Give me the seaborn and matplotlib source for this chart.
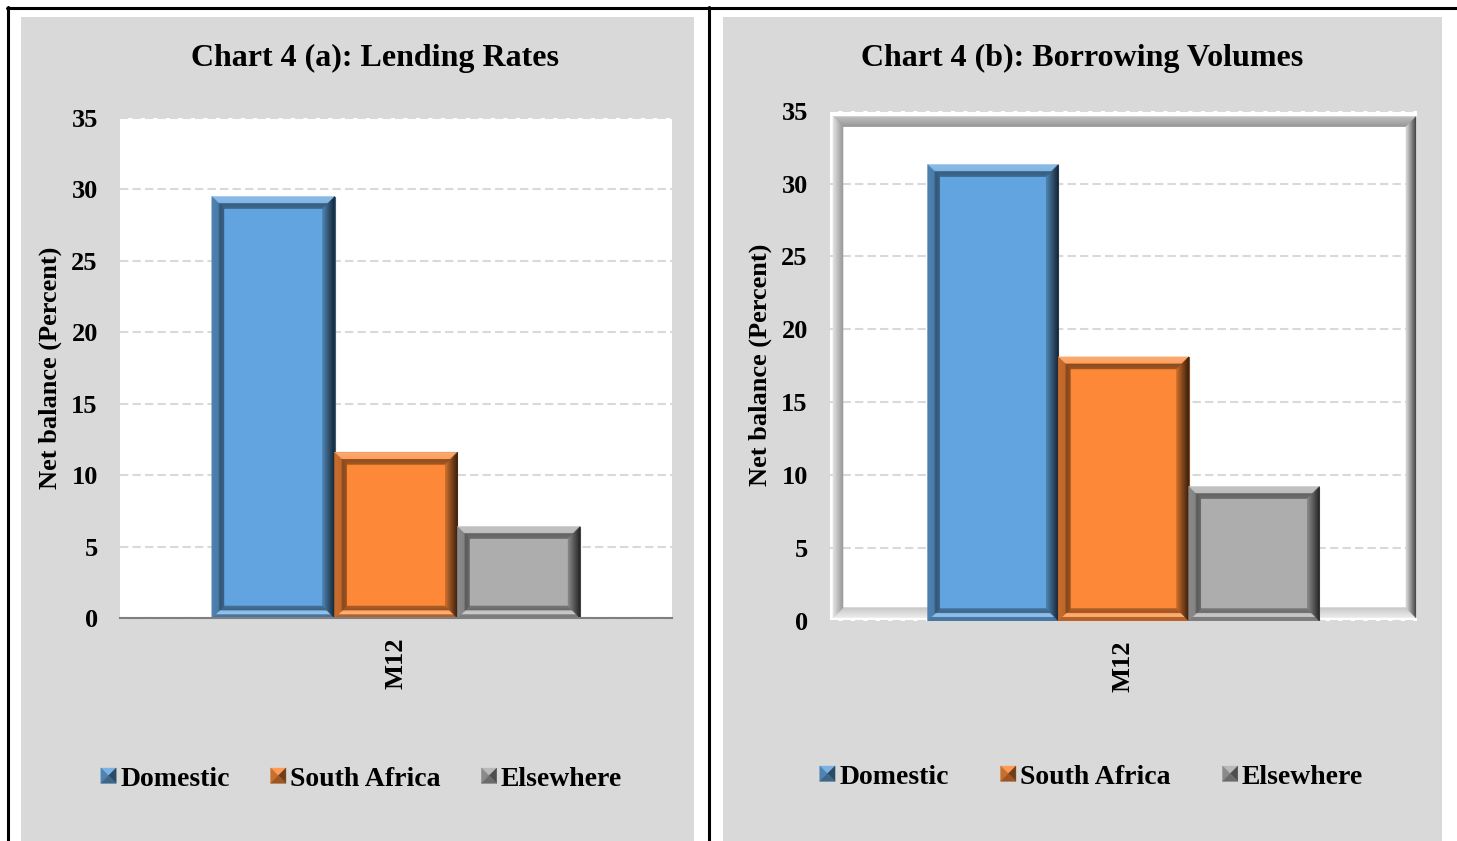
import numpy as np
import pandas as pd
import matplotlib
matplotlib.use("Agg")
import matplotlib.pyplot as plt
import seaborn as sns
from matplotlib.collections import PolyCollection
from matplotlib.transforms import IdentityTransform
from matplotlib.legend_handler import HandlerBase
from matplotlib.patches import Polygon, Rectangle
from matplotlib.lines import Line2D
from matplotlib.colors import to_rgb

# ---- data -------------------------------------------------------------
months = ["M12"]
regions = ["Domestic", "South Africa", "Elsewhere"]
lending_rates = [29.5, 11.6, 6.4]
borrowing_volumes = [31.3, 18.1, 9.2]
region_colors = ["#62A4DF", "#FD8938", "#ADADAD"]
y_ticks = [0, 5, 10, 15, 20, 25, 30, 35]
titles = ["Chart 4 (a): Lending Rates", "Chart 4 (b): Borrowing Volumes"]
y_label = "Net balance (Percent)"

sns.set_theme(style="white")
plt.rcParams["font.family"] = ["Liberation Serif", "DejaVu Serif"]
plt.rcParams["font.weight"] = "bold"
plt.rcParams["text.color"] = "black"
plt.rcParams["axes.labelcolor"] = "black"
plt.rcParams["xtick.color"] = "black"
plt.rcParams["ytick.color"] = "black"

W, H = 1457, 841
fig = plt.figure(figsize=(W / 100, H / 100), dpi=100)
fig.patch.set_facecolor("white")


def fx(px):
    return px / W


def fy(py):
    return 1 - py / H


def rect(l, t, r, b):
    return [fx(l), fy(b), fx(r) - fx(l), fy(t) - fy(b)]


def shade(rgb, f):
    rgb = np.array(rgb, dtype=float)
    if f <= 1:
        return tuple(np.clip(rgb * f, 0, 1))
    return tuple(np.clip(rgb + (1 - rgb) * (f - 1), 0, 1))


def bevel(ax, x0, y0, x1, y1, depth, profile, base, zorder):
    """Draw a mitred bevel (in pixels) inside the box x0..x1, y0..y1."""
    polys, cols = [], []
    for d in range(depth):
        t = (d + 0.5) / depth
        a, b = d, d + 1
        sides = {
            "top": [(x0 + a, y1 - a), (x1 - a, y1 - a), (x1 - b, y1 - b), (x0 + b, y1 - b)],
            "bottom": [(x0 + a, y0 + a), (x1 - a, y0 + a), (x1 - b, y0 + b), (x0 + b, y0 + b)],
            "left": [(x0 + a, y0 + a), (x0 + a, y1 - a), (x0 + b, y1 - b), (x0 + b, y0 + b)],
            "right": [(x1 - a, y0 + a), (x1 - a, y1 - a), (x1 - b, y1 - b), (x1 - b, y0 + b)],
        }
        for side, pts in sides.items():
            ts, fs = profile[side]
            f = float(np.interp(t, ts, fs))
            polys.append(pts)
            cols.append(shade(base, f))
    pc = PolyCollection(polys, facecolors=cols, edgecolors=cols, linewidths=0.4,
                        transform=IdentityTransform(), zorder=zorder)
    ax.add_collection(pc, autolim=False)


BAR_PROFILE = {
    "top": ([0, 0.55, 0.62, 1.0], [1.3, 1.2, 0.55, 0.62]),
    "left": ([0, 0.6, 0.66, 1.0], [0.8, 0.75, 0.5, 0.58]),
    "right": ([0, 1.0], [0.18, 0.78]),
    "bottom": ([0, 0.3, 0.36, 0.62, 0.68, 1.0], [0.7, 0.72, 1.35, 1.25, 0.6, 0.68]),
}

FRAME_PROFILE = {
    "top": ([0, 1.0], [0.75, 0.58]),
    "left": ([0, 1.0], [0.9, 0.6]),
    "right": ([0, 1.0], [0.25, 0.85]),
    "bottom": ([0, 1.0], [0.93, 0.78]),
}


class PyramidHandler(HandlerBase):
    def create_artists(self, legend, orig_handle, xdescent, ydescent,
                       width, height, fontsize, trans):
        s = min(width, height)
        x0 = -xdescent + (width - s) / 2
        y0 = -ydescent + (height - s) / 2
        cx, cy = x0 + s / 2, y0 + s / 2
        base = to_rgb(orig_handle.get_facecolor())
        faces = [
            ([(x0, y0 + s), (x0 + s, y0 + s), (cx, cy)], 1.15),
            ([(x0, y0), (x0, y0 + s), (cx, cy)], 0.8),
            ([(x0 + s, y0), (x0 + s, y0 + s), (cx, cy)], 0.45),
            ([(x0, y0), (x0 + s, y0), (cx, cy)], 0.62),
        ]
        out = []
        for pts, f in faces:
            c = shade(base, f)
            out.append(Polygon(pts, closed=True, facecolor=c, edgecolor=c,
                               linewidth=0.3, transform=trans))
        return out


# ---- page background: grey chart areas and black frame lines ----------
for l, r in [(21, 694), (723, 1442)]:
    fig.add_artist(Rectangle((fx(l), fy(H)), fx(r) - fx(l), fy(17) - fy(H),
                             transform=fig.transFigure, facecolor="#D9D9D9",
                             edgecolor="none", zorder=-10))
for xs, ys in [([7, W], [7.5, 7.5]), ([7.5, 7.5], [7, H]), ([708.5, 708.5], [7, H])]:
    fig.add_artist(Line2D([fx(x) for x in xs], [fy(y) for y in ys],
                          transform=fig.transFigure, color="black", linewidth=2.2,
                          zorder=-5))

panels = [
    dict(values=lending_rates, rect=rect(120, 118, 672, 618), title_xy=(375, 58),
         ylabel_xy=(50, 368), legend_xy=(361.5, 779), colspacing=1.47, framed=False),
    dict(values=borrowing_volumes, rect=rect(830, 110.7, 1417, 620.7), title_xy=(1082, 58),
         ylabel_xy=(760, 365), legend_xy=(1091.5, 777), colspacing=1.87, framed=True),
]

for i, p in enumerate(panels):
    ax = fig.add_axes(p["rect"])
    ax.set_facecolor("white")
    df = pd.DataFrame({
        "month": [months[0]] * len(regions),
        "region": regions,
        "value": p["values"],
    })
    sns.barplot(data=df, x="month", y="value", hue="region", hue_order=regions,
                palette=region_colors, width=0.667, saturation=1, linewidth=0,
                legend=False, ax=ax)
    bars = list(ax.patches)
    ax.set_xlim(-0.5, 0.5)
    ax.set_ylim(0, 35)
    ax.set_yticks(y_ticks)
    ax.set_axisbelow(True)
    ax.yaxis.grid(True, color="#D9D9D9", linestyle=(0, (4, 2)), linewidth=1.5)
    ax.xaxis.grid(False)
    ax.set_xlabel("")
    ax.set_ylabel("")
    for s in ax.spines.values():
        s.set_visible(False)
    if not p["framed"]:
        ax.spines["bottom"].set_visible(True)
        ax.spines["bottom"].set_color("#7F7F7F")
        ax.spines["bottom"].set_linewidth(1.5)
    ax.tick_params(axis="y", length=0, pad=16, labelsize=19, labelcolor="black")
    ax.tick_params(axis="x", length=0, pad=14, labelsize=19, labelcolor="black",
                   labelrotation=90)
    for lab in ax.get_xticklabels() + ax.get_yticklabels():
        lab.set_fontweight("bold")

    # beveled plot-area frame
    if p["framed"]:
        (X0, Y0) = ax.transAxes.transform((0, 0))
        (X1, Y1) = ax.transAxes.transform((1, 1))
        bevel(ax, X0 + 3, Y0 + 3, X1 - 1, Y1 - 6, 10, FRAME_PROFILE, (1, 1, 1), 0.8)

    # beveled bars
    for bar, color in zip(bars, region_colors):
        base = to_rgb(color)
        bar.set_edgecolor(shade(base, 0.55))
        bar.set_linewidth(0.8)
        bar.set_zorder(1)
        (bx0, by0) = ax.transData.transform((bar.get_x(), bar.get_y()))
        (bx1, by1) = ax.transData.transform((bar.get_x() + bar.get_width(),
                                             bar.get_y() + bar.get_height()))
        bevel(ax, bx0, by0, bx1, by1, 12, BAR_PROFILE, base, 1.1)

    fig.text(fx(p["title_xy"][0]), fy(p["title_xy"][1]), titles[i], ha="center",
             va="center", fontsize=23, fontweight="bold", color="black")
    fig.text(fx(p["ylabel_xy"][0]), fy(p["ylabel_xy"][1]), y_label, ha="center",
             va="center", rotation=90, fontsize=19, fontweight="bold", color="black")

    handles = [Rectangle((0, 0), 1, 1, facecolor=c) for c in region_colors]
    fig.legend(handles, regions, loc="center",
               bbox_to_anchor=(fx(p["legend_xy"][0]), fy(p["legend_xy"][1])),
               bbox_transform=fig.transFigure, ncol=3, frameon=False,
               prop={"family": ["Liberation Serif"], "weight": "bold", "size": 20},
               labelcolor="black",
               handlelength=0.55, handleheight=0.55, handletextpad=0.15,
               columnspacing=p["colspacing"],
               handler_map={Rectangle: PyramidHandler()})

fig.savefig("out.png", dpi=100)
